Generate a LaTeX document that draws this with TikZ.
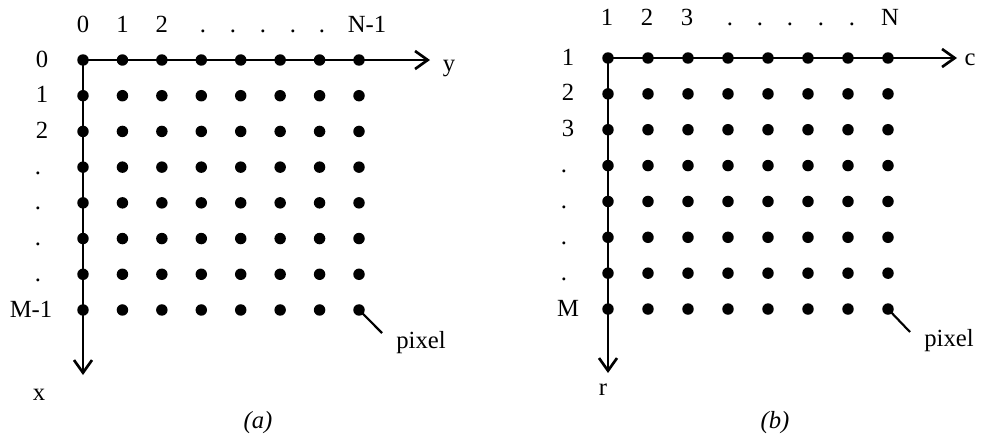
\documentclass[tikz,border=0pt]{standalone}
\usepackage{fontspec}
\setmainfont{Liberation Serif}
\usetikzlibrary{arrows.meta,positioning}

\begin{document}
\begin{tikzpicture}[
    x=0.75pt, y=-0.75pt,
    font=\fontsize{18.5}{22}\selectfont,
    >={Straight Barb[length=9.5pt, width=13.5pt]},
    px/.style={circle, fill=black, inner sep=0pt, minimum size=8.6pt},
    axis/.style={->, line width=2pt},
    lbl/.style={anchor=base, inner sep=0pt}
  ]
  \useasboundingbox (0,0) rectangle (987,437);

  % Grid (a): indices start at 0
  \foreach \r in {0,...,7}
    \foreach \c in {0,...,7}
      \node[px] (a-\r-\c) at ({83+39.43*\c}, {60+35.71*\r}) {};

  \coordinate (a-yend) at (430, 60);
  \coordinate (a-xend) at (83, 375);
  \draw[axis] (a-0-0.center) -- (a-yend);
  \draw[axis] (a-0-0.center) -- (a-xend);
  \node[lbl] (a-y) at (449, 71) {y};
  \node[lbl] (a-x) at (39, 400) {x};

  % Column indices
  \foreach \lab [count=\i from 0] in {0,1,2}
    \node[lbl] (a-top\i) at ({83+39.43*\i}, 32) {\lab};
  \foreach \x in {203,233,263,293,322}
    \node[lbl] (a-tdot\x) at (\x, 32) {.};
  \node[lbl] (a-topN) at (367, 32) {N-1};

  % Row indices
  \foreach \lab [count=\i from 0] in {0,1,2}
    \node[lbl] (a-left\i) at (42, {67+35.71*\i}) {\lab};
  \foreach \i in {3,...,6}
    \node[lbl] (a-ldot\i) at (38, {67+35.71*\i}) {.};
  \node[lbl] (a-leftM) at (31, 317) {M-1};

  % Pixel pointer
  \node[lbl] (a-pix) at (421, 348) {pixel};
  \coordinate (a-tip) at (382, 333);
  \draw[line width=1.6pt] (a-7-7.center) -- (a-tip);

  \node (a-cap) at (258, 423) {\itshape (a)};

  % Grid (b): indices start at 1
  \foreach \r in {0,...,7}
    \foreach \c in {0,...,7}
      \node[px] (b-\r-\c) at ({608+40*\c}, {58+35.86*\r}) {};

  \coordinate (b-cend) at (957, 58);
  \coordinate (b-rend) at (608, 373);
  \draw[axis] (b-0-0.center) -- (b-cend);
  \draw[axis] (b-0-0.center) -- (b-rend);
  \node[lbl] (b-c) at (970, 65) {c};
  \node[lbl] (b-r) at (603, 395) {r};

  % Column indices
  \foreach \lab [count=\i from 0] in {1,2,3}
    \node[lbl] (b-top\i) at ({607+40*\i}, 25) {\lab};
  \foreach \x in {730,760,790,821,852}
    \node[lbl] (b-tdot\x) at (\x, 25) {.};
  \node[lbl] (b-topN) at (890, 25) {N};

  % Row indices
  \foreach \lab [count=\i from 0] in {1,2,3}
    \node[lbl] (b-left\i) at (568, {65+35.86*\i}) {\lab};
  \foreach \i in {3,...,6}
    \node[lbl] (b-ldot\i) at (564, {65+35.86*\i}) {.};
  \node[lbl] (b-leftM) at (568, 316) {M};

  % Pixel pointer
  \node[lbl] (b-pix) at (949, 346) {pixel};
  \coordinate (b-tip) at (910, 332);
  \draw[line width=1.6pt] (b-7-7.center) -- (b-tip);

  \node (b-cap) at (775, 423) {\itshape (b)};
\end{tikzpicture}
\end{document}
